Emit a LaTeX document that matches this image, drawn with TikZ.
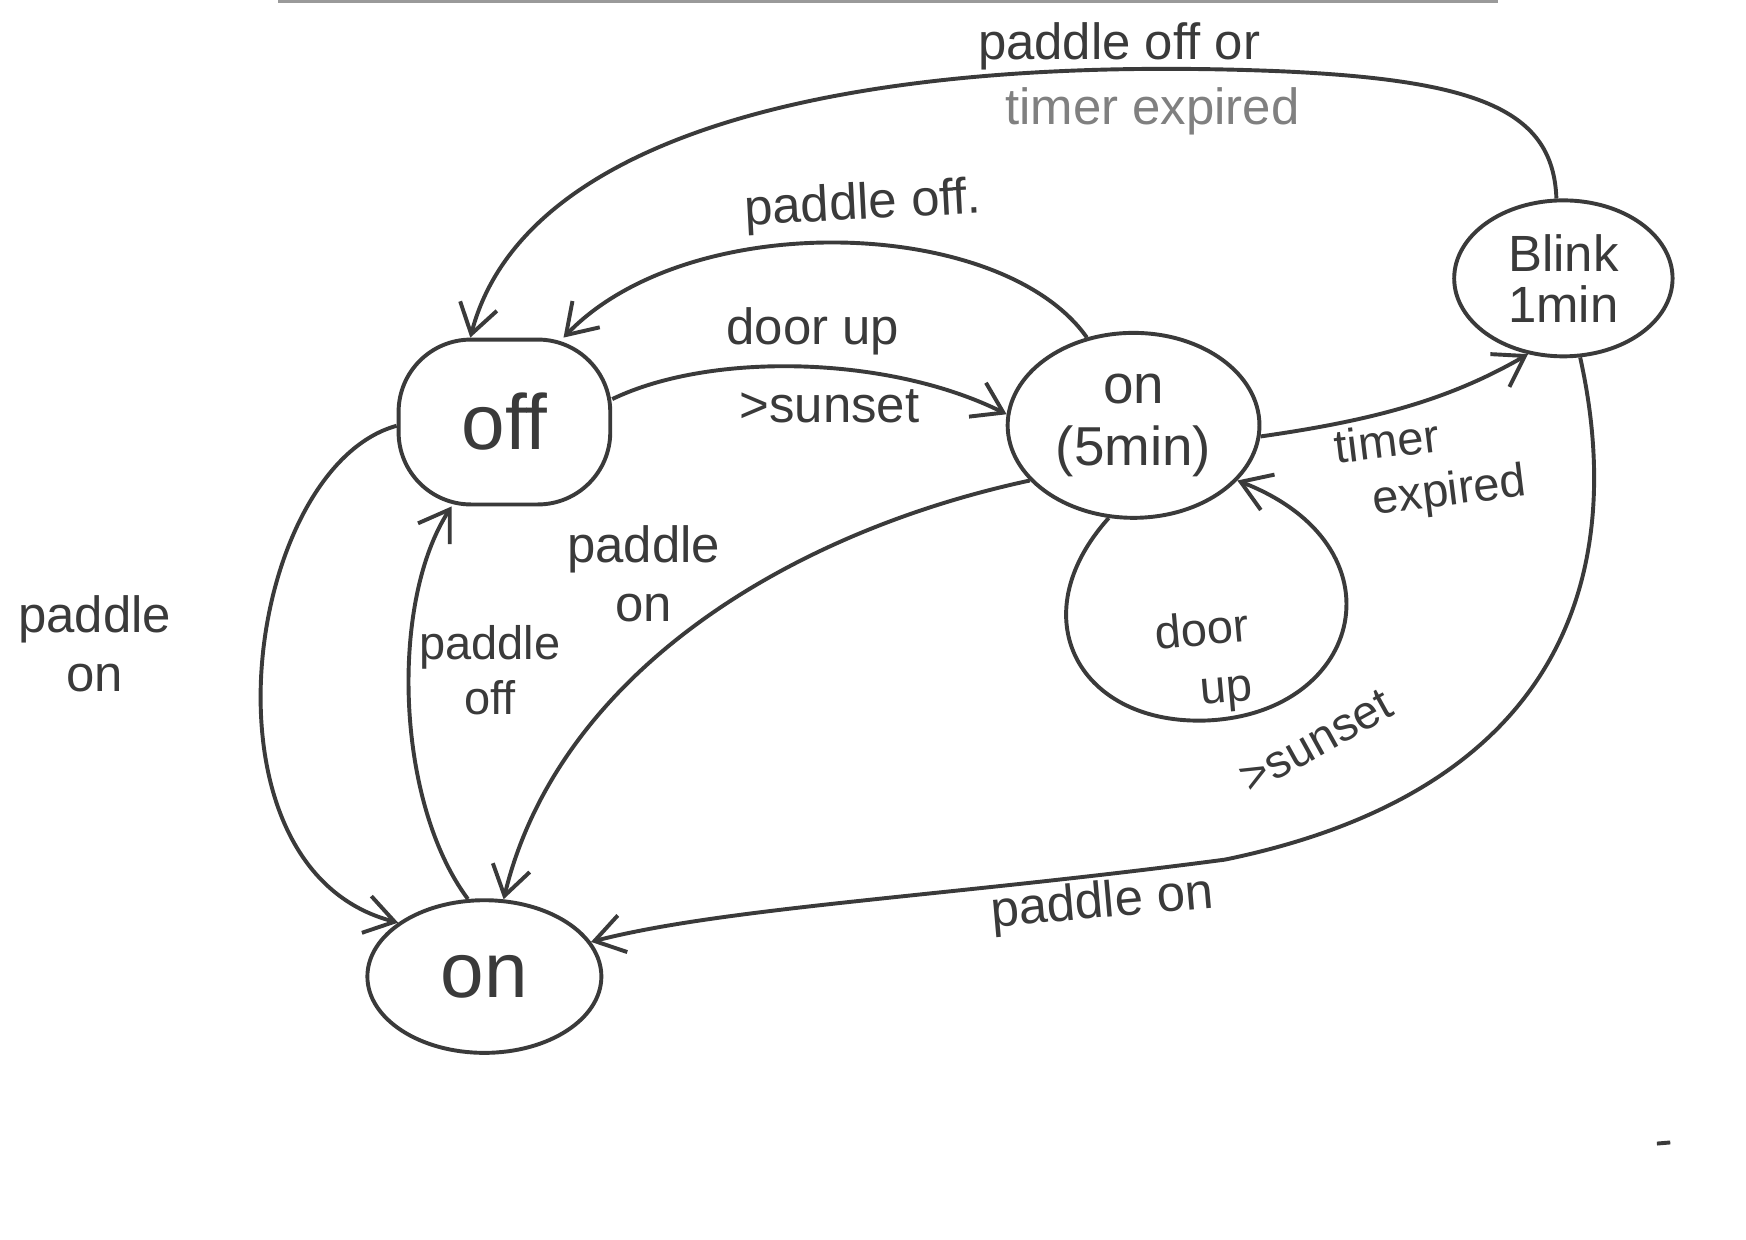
\documentclass[tikz,border=0pt]{standalone}
\usepackage{fontspec}
\setmainfont{Liberation Sans}[Ligatures=NoCommon]
\usetikzlibrary{arrows.meta,shapes.geometric}
\definecolor{ink}{HTML}{3A3A3A}
\definecolor{faint}{HTML}{808080}
\definecolor{edge}{HTML}{9A9A9A}
\tikzset{
  state/.style={draw=ink, line width=1pt, ellipse, inner sep=0pt, align=center, text=ink},
  trans/.style={draw=ink, line width=1pt, -{Straight Barb[length=2.6mm,width=3.4mm]}},
  lbl/.style={text=ink, font=\fontsize{13}{15}\selectfont, align=center, inner sep=0pt},
  slbl/.style={lbl, font=\fontsize{12}{14}\selectfont},
}
\begin{document}
\begin{tikzpicture}[x=0.01cm,y=-0.01cm]
\useasboundingbox (0,0) rectangle (1568,1113.6);
\fill[white] (0,0) rectangle (1568,1113.6);
% paper edge and small mark
\draw[edge, line width=0.8pt] (250,1) coordinate (pe1) -- (1345,1) coordinate (pe2);
\draw[ink, line width=1pt] (1488,1027) coordinate (dm1) -- (1500,1026) coordinate (dm2);

% states
\node[draw=ink, line width=1pt, rectangle, rounded corners=0.65cm, minimum width=1.90cm, minimum height=1.48cm, inner sep=0pt, text=ink, font=\fontsize{20}{22}\selectfont] (off) at (453,379) {off};
\node[state, minimum width=2.26cm, minimum height=1.66cm, font=\fontsize{14}{16}\selectfont] (on5) at (1018,382) {on\\(5min)};
\node[state, minimum width=1.96cm, minimum height=1.40cm, font=\fontsize{13}{13}\selectfont] (blink) at (1404,250) {Blink\\1min};
\node[state, minimum width=2.10cm, minimum height=1.37cm, font=\fontsize{20}{22}\selectfont] (onb) at (435,877) {on};

% transitions
\draw[trans] (blink.95) .. controls (1395,100) and (1330,72) .. (1150,64)
  .. controls (760,48) and (470,120) .. (off.112);
\node[lbl] (l1a) at (1005,42) {paddle off or};
\node[lbl, text=faint] (l1b) at (1035,100) {timer expired};

\draw[trans] (on5.118) .. controls (900,195) and (620,185) .. (off.55);
\node[lbl, rotate=3] (l2) at (775,185) {paddle off.};

\draw[trans] (off.12) .. controls (640,315) and (800,320) .. (on5.175);
\node[lbl] (l3a) at (730,298) {door up};
\node[lbl] (l3b) at (745,365) {>sunset};

\draw[trans] (on5.-5) .. controls (1230,378) and (1300,360) .. (blink.245);
\node[slbl, rotate=7, align=left] (l4) at (1285,420) {timer\\\hspace*{8pt}expired};

\draw[trans] (on5.255) .. controls (915,555) and (970,652) .. (1085,647)
  .. controls (1225,640) and (1262,490) .. (on5.-28);
\node[lbl, font=\fontsize{12}{15}\selectfont, rotate=5] (l5a) at (1082,595) {door\\\hspace*{10pt}up};
\node[slbl, rotate=29] (l5b) at (1182,666) {>sunset};

\draw[trans] (off.182) .. controls (220,420) and (170,780) .. (onb.148);
\node[lbl] (l6) at (85,578) {paddle\\on};

\draw[trans] (onb.102) .. controls (355,720) and (350,540) .. (off.238);
\node[slbl] (l7) at (440,602) {paddle\\off};

\draw[trans] (on5.208) .. controls (700,480) and (500,610) .. (onb.76);
\node[lbl] (l8) at (578,515) {paddle\\on};

\draw[trans] (blink.282) .. controls (1450,460) and (1450,700) .. (1100,772)
  .. controls (850,805) and (650,815) .. (onb.18);
\node[lbl, rotate=5] (l9) at (990,812) {paddle on};
\end{tikzpicture}
\end{document}
